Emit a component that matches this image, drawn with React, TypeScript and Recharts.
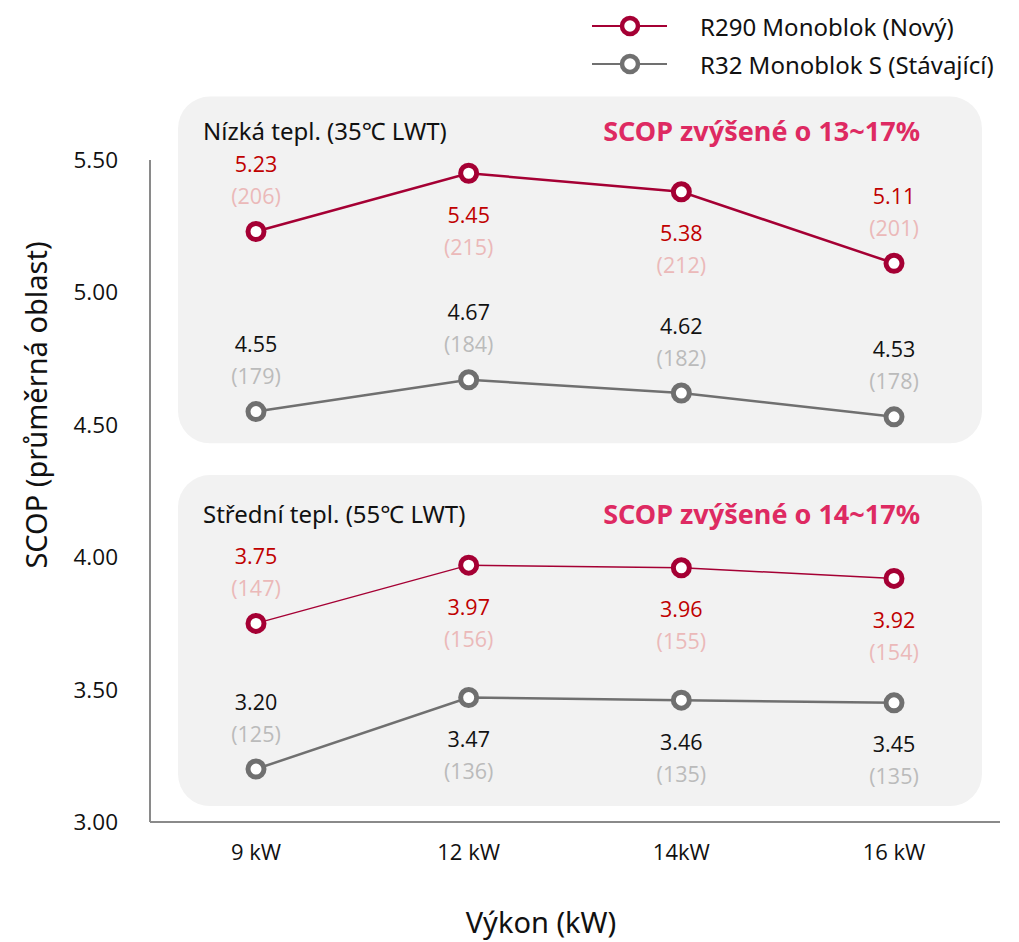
import React from 'react';
import { LineChart, Line, XAxis, YAxis, ReferenceArea, Legend } from 'recharts';

const categories = ['9 kW', '12 kW', '14kW', '16 kW'];
const r290Low = [5.23, 5.45, 5.38, 5.11];
const r290LowIdx = [206, 215, 212, 201];
const r32Low = [4.55, 4.67, 4.62, 4.53];
const r32LowIdx = [179, 184, 182, 178];
const r290Mid = [3.75, 3.97, 3.96, 3.92];
const r290MidIdx = [147, 156, 155, 154];
const r32Mid = [3.2, 3.47, 3.46, 3.45];
const r32MidIdx = [125, 136, 135, 135];
const yTicks = [3, 3.5, 4, 4.5, 5, 5.5];
const legendNames = ['R290 Monoblok (Nový)', 'R32 Monoblok S (Stávající)'];
const panelTitles = ['Nízká tepl. (35℃ LWT)', 'Střední tepl. (55℃ LWT)'];
const panelNotes = ['SCOP zvýšené o 13~17%', 'SCOP zvýšené o 14~17%'];
const xTitle = 'Výkon (kW)';
const yTitle = 'SCOP (průměrná oblast)';

const data = categories.map((c, i) => ({
  cat: c,
  r290Low: r290Low[i],
  r32Low: r32Low[i],
  r290Mid: r290Mid[i],
  r32Mid: r32Mid[i],
}));

const RED = '#A50034';
const GRAY = '#707070';
const RED_TXT = '#C00000';
const RED_SUB = '#EBB9B9';
const GRAY_TXT = '#111111';
const GRAY_SUB = '#BBBBBB';
const PINK = '#DE2A62';
const LABEL_FONT = '"Open Sans", sans-serif';
const TITLE_FONT = '"Noto Sans", sans-serif';
const X_PAD = 106;

const makeDot = (color: string, idx: number[], sides: string[], main: string, sub: string) =>
  (p: any) => {
    const { cx, cy, index, payload, dataKey } = p;
    if (cx == null || cy == null) return <g key={index} />;
    const v = payload[dataKey] as number;
    const above = sides[index] === 'above';
    const y1 = above ? cy - 68 : cy + 41;
    const y2 = above ? cy - 36 : cy + 73;
    return (
      <g key={`${dataKey}-${index}`}>
        <circle cx={cx} cy={cy} r={8} fill="#fff" stroke={color} strokeWidth={5} />
        <text x={cx} y={y1} textAnchor="middle" dominantBaseline="central" fontFamily={LABEL_FONT} fontSize={21.5} fill={main}>
          {v.toFixed(2)}
        </text>
        <text x={cx} y={y2} textAnchor="middle" dominantBaseline="central" fontFamily={LABEL_FONT} fontSize={21.5} fill={sub}>
          {`(${idx[index]})`}
        </text>
      </g>
    );
  };

const panelShape = (title: string, note: string, titleDy: number) => (p: any) => {
  const { x, y, width, height } = p;
  const rx = x - X_PAD + 28;
  const rw = width + 2 * X_PAD - 46;
  return (
    <g>
      <rect x={rx} y={y} width={rw} height={height} rx={32} ry={32} fill="#F2F2F2" />
      <text x={rx + 25} y={y + titleDy} dominantBaseline="central" fontFamily={TITLE_FONT} fontSize={24} fill="#111">
        {title}
      </text>
      <text x={rx + rw - 62} y={y + titleDy} textAnchor="end" dominantBaseline="central" fontFamily={TITLE_FONT} fontWeight={700} fontSize={27} fill={PINK}>
        {note}
      </text>
    </g>
  );
};

const renderLegend = () => (
  <svg width={434} height={90}>
    {legendNames.map((n, i) => {
      const color = i === 0 ? RED : GRAY;
      const cy = 26 + i * 38;
      return (
        <g key={n}>
          <line x1={7} x2={82} y1={cy} y2={cy} stroke={color} strokeWidth={2} />
          <circle cx={45} cy={cy} r={8} fill="#fff" stroke={color} strokeWidth={4.5} />
          <text x={115} y={cy} dominantBaseline="central" fontFamily={TITLE_FONT} fontSize={24} fill="#111">
            {n}
          </text>
        </g>
      );
    })}
  </svg>
);

const YTitle = (p: any) => {
  const vb = p.viewBox || {};
  const cy = vb.y + vb.height / 2 - 86;
  return (
    <text x={35} y={cy} transform={`rotate(-90, 35, ${cy})`} textAnchor="middle" dominantBaseline="central" fontFamily={TITLE_FONT} fontSize={29} fill="#111">
      {yTitle}
    </text>
  );
};

const XTitle = (p: any) => {
  const vb = p.viewBox || {};
  const cx = vb.x + vb.width / 2 - 34;
  return (
    <text x={cx} y={921} textAnchor="middle" dominantBaseline="central" fontFamily={TITLE_FONT} fontSize={29} fill="#111">
      {xTitle}
    </text>
  );
};

export default function App() {
  return (
    <div style={{ position: 'absolute', left: 0, top: 0, width: 1019, height: 942, background: '#fff' }}>
      <LineChart width={1019} height={942} data={data} margin={{ top: 160, right: 19, bottom: 0, left: 0 }}>
        <ReferenceArea y1={4.43} y2={5.74} ifOverflow="visible" shape={panelShape(panelTitles[0], panelNotes[0], 34)} />
        <ReferenceArea y1={3.06} y2={4.31} ifOverflow="visible" shape={panelShape(panelTitles[1], panelNotes[1], 38)} />
        <XAxis
          dataKey="cat"
          height={120}
          padding={{ left: X_PAD, right: X_PAD }}
          axisLine={{ stroke: '#8A8A8A', strokeWidth: 2 }}
          tickLine={false}
          tickSize={0}
          tickMargin={22}
          tick={{ fontSize: 22, fill: '#111', fontFamily: LABEL_FONT }}
          label={<XTitle />}
        />
        <YAxis
          type="number"
          domain={[3, 5.5]}
          ticks={yTicks}
          width={150}
          axisLine={{ stroke: '#8A8A8A', strokeWidth: 2 }}
          tickLine={false}
          tickSize={0}
          tickMargin={32}
          tickFormatter={(v: number) => v.toFixed(2)}
          tick={{ fontSize: 22.5, fill: '#111', fontFamily: LABEL_FONT }}
          label={<YTitle />}
        />
        <Legend
          layout="vertical"
          align="center"
          verticalAlign="middle"
          content={renderLegend}
          wrapperStyle={{ position: 'absolute', top: 0, left: 585, width: 434, height: 90 }}
        />
        <Line dataKey="r290Low" stroke={RED} strokeWidth={2.5} isAnimationActive={false}
          dot={makeDot(RED, r290LowIdx, ['above', 'below', 'below', 'above'], RED_TXT, RED_SUB)} activeDot={false} />
        <Line dataKey="r32Low" stroke={GRAY} strokeWidth={2.5} isAnimationActive={false}
          dot={makeDot(GRAY, r32LowIdx, ['above', 'above', 'above', 'above'], GRAY_TXT, GRAY_SUB)} activeDot={false} />
        <Line dataKey="r290Mid" stroke={RED} strokeWidth={1.5} isAnimationActive={false}
          dot={makeDot(RED, r290MidIdx, ['above', 'below', 'below', 'below'], RED_TXT, RED_SUB)} activeDot={false} />
        <Line dataKey="r32Mid" stroke={GRAY} strokeWidth={2.5} isAnimationActive={false}
          dot={makeDot(GRAY, r32MidIdx, ['above', 'below', 'below', 'below'], GRAY_TXT, GRAY_SUB)} activeDot={false} />
      </LineChart>
    </div>
  );
}
